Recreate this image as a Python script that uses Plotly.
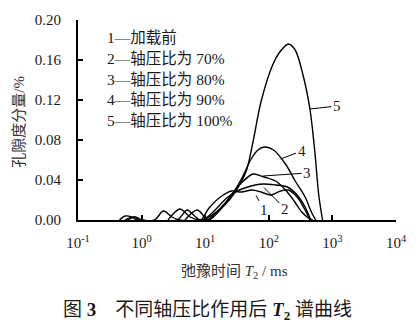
import plotly.graph_objects as go

# T2 relaxation spectra (T2 in ms, porosity component in %)
t2_1 = [0.45, 0.55, 0.7, 0.85, 3.6, 5.2, 6.8, 8.5, 11.5, 18.2, 26.0, 37.1, 54.7, 75.3, 107, 153, 203, 279, 372, 442]
amp_1 = [0.0, 0.004, 0.003, 0.0, 0.0, 0.010, 0.004, 0.0, 0.012, 0.024, 0.029, 0.028, 0.030, 0.028, 0.025, 0.029, 0.030, 0.023, 0.010, 0.0]

t2_2 = [0.6, 0.8, 1.0, 1.6, 2.2, 3.0, 4.0, 9.0, 14.3, 21.8, 34.5, 52.8, 81.0, 128, 196, 279, 372, 457]
amp_2 = [0.0, 0.003, 0.0, 0.0, 0.009, 0.003, 0.0, 0.0, 0.010, 0.022, 0.030, 0.034, 0.036, 0.035, 0.033, 0.025, 0.013, 0.0]

t2_3 = [2.6, 4.0, 5.8, 8.0, 11.5, 18.2, 27.9, 39.8, 56.8, 84.0, 128, 183, 250, 330, 420, 490]
amp_3 = [0.0, 0.011, 0.003, 0.0, 0.0, 0.012, 0.028, 0.039, 0.046, 0.043, 0.039, 0.030, 0.019, 0.008, 0.002, 0.0]

t2_4 = [4.8, 7.5, 10.0, 10.7, 16.4, 26.0, 37.1, 52.8, 67.6, 86.7, 119, 183, 260, 372, 475, 547]
amp_4 = [0.0, 0.010, 0.002, 0.0, 0.010, 0.025, 0.041, 0.061, 0.070, 0.073, 0.070, 0.056, 0.039, 0.023, 0.007, 0.0]

t2_5 = [0.55, 0.75, 1.0, 9.0, 12.8, 20.3, 31.0, 44.2, 56.8, 75.3, 115, 153, 203, 260, 345, 443, 528, 610, 700]
amp_5 = [0.0, 0.003, 0.0, 0.0, 0.005, 0.015, 0.030, 0.049, 0.079, 0.118, 0.155, 0.169, 0.176, 0.170, 0.145, 0.111, 0.069, 0.025, 0.0]

series = [(t2_1, amp_1), (t2_2, amp_2), (t2_3, amp_3), (t2_4, amp_4), (t2_5, amp_5)]
legend_lines = ["1—加载前", "2—轴压比为 70%", "3—轴压比为 80%", "4—轴压比为 90%", "5—轴压比为 100%"]
x_tick_vals = [0.1, 1, 10, 100, 1000, 10000]
x_tick_text = ["10<sup>-1</sup>", "10<sup>0</sup>", "10<sup>1</sup>", "10<sup>2</sup>", "10<sup>3</sup>", "10<sup>4</sup>"]
y_tick_vals = [0.0, 0.04, 0.08, 0.12, 0.16, 0.20]

SERIF = "Liberation Serif, Noto Sans CJK SC, serif"
INK = "#1a1a1a"

W, H = 419, 326
L, R, T, B = 78, 16, 17, 106
PW, PH = W - L - R, H - T - B


def px_to_paper(px, py):
    return (px - L) / PW, 1 - (py - T) / PH


fig = go.Figure()
for xs, ys in series:
    fig.add_trace(go.Scatter(
        x=xs, y=ys, mode="lines",
        line=dict(color="black", width=1.4, shape="spline", smoothing=0.9),
        showlegend=False, hoverinfo="skip",
    ))

# curve number callouts: label, log10(T2), amplitude, text offset (px)
callouts = [
    ("1", 1.80, 0.0246, 8, 15),
    ("2", 1.923, 0.0325, 21, 21),
    ("3", 1.908, 0.044, 44, -3),
    ("4", 2.185, 0.061, 21, -8),
    ("5", 2.646, 0.111, 27, -3),
]
for label, lx, ly, ax, ay in callouts:
    fig.add_annotation(
        x=lx, y=ly, xref="x", yref="y", text=label, showarrow=True,
        arrowhead=0, arrowwidth=1, arrowcolor="black", ax=ax, ay=ay,
        standoff=0, startstandoff=0,
        font=dict(family=SERIF, size=15, color=INK),
    )

# legend block
for i, line in enumerate(legend_lines):
    x0, y0 = px_to_paper(106, 35 + i * 21)
    fig.add_annotation(
        x=x0, y=y0, xref="paper", yref="paper", text=line,
        showarrow=False, xanchor="left", yanchor="middle",
        font=dict(family=SERIF, size=15.5, color=INK),
    )

# axis titles and caption
tx, ty = px_to_paper(238, 273)
fig.add_annotation(
    x=tx, y=ty, xref="paper", yref="paper",
    text="弛豫时间 <i>T</i><sub>2</sub> / ms",
    showarrow=False, xanchor="center", yanchor="middle",
    font=dict(family=SERIF, size=15, color="#333"),
)
yx, yy = px_to_paper(18, 120)
fig.add_annotation(
    x=yx, y=yy, xref="paper", yref="paper", text="孔隙度分量/%",
    showarrow=False, xanchor="center", yanchor="middle", textangle=-90,
    font=dict(family=SERIF, size=15, color="#333"),
)
cx, cy = px_to_paper(210, 312)
fig.add_annotation(
    x=cx, y=cy, xref="paper", yref="paper",
    text="图 <b>3</b>　不同轴压比作用后 <b><i>T</i><sub>2</sub></b> 谱曲线",
    showarrow=False, xanchor="center", yanchor="middle",
    font=dict(family=SERIF, size=19, color=INK),
)

fig.update_layout(
    width=W, height=H,
    margin=dict(l=L, r=R, t=T, b=B),
    paper_bgcolor="white", plot_bgcolor="white",
    xaxis=dict(
        type="log", range=[-1, 4],
        tickvals=x_tick_vals, ticktext=x_tick_text,
        ticks="inside", ticklen=5, tickwidth=2, tickcolor="black",
        showline=True, linecolor="black", linewidth=2,
        showgrid=False, zeroline=False, ticklabelstandoff=8,
        tickfont=dict(family=SERIF, size=15, color=INK),
    ),
    yaxis=dict(
        range=[0, 0.2],
        tickvals=y_tick_vals, tickformat=".2f",
        ticks="inside", ticklen=5, tickwidth=2, tickcolor="black",
        showline=True, linecolor="black", linewidth=2,
        showgrid=False, zeroline=False, ticklabelstandoff=12,
        tickfont=dict(family=SERIF, size=15, color=INK),
    ),
)

fig.write_html("out.html")
